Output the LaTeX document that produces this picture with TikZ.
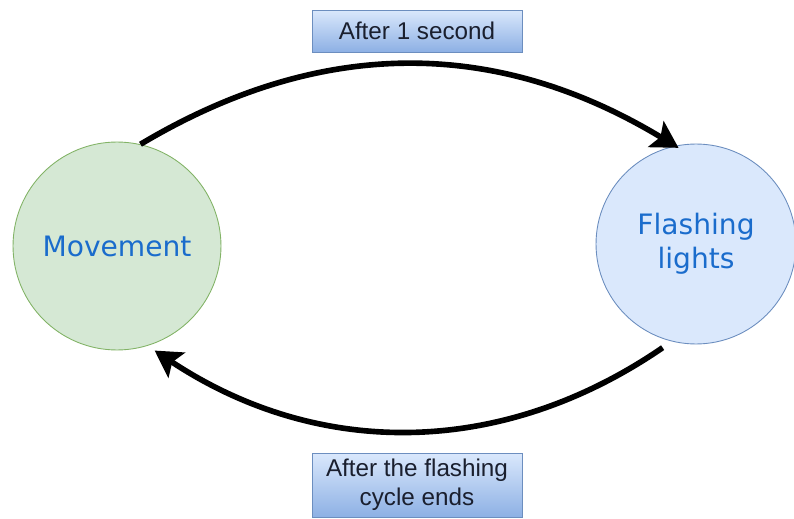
\documentclass[tikz,border=0pt]{standalone}
\usepackage{fontspec}
\setmainfont{Liberation Sans}
\newfontfamily\statefont{DejaVu Sans}
\usepackage{xcolor}
\usepackage{tikz}
\usetikzlibrary{arrows.meta, positioning}
\definecolor{greenfill}{HTML}{D5E8D4}
\definecolor{greenline}{HTML}{82B366}
\definecolor{bluefill}{HTML}{DAE8FC}
\definecolor{blueline}{HTML}{6C8EBF}
\definecolor{stateblue}{HTML}{1A6CCC}
\definecolor{boxtop}{HTML}{DAE8FC}
\definecolor{boxbottom}{HTML}{8DB0E4}
\definecolor{boxtext}{HTML}{1A1F2E}

\begin{document}
\begin{tikzpicture}[x=0.02cm, y=0.02cm, >=Stealth,
  state/.style={circle, draw, line width=0.5pt, inner sep=0pt, align=center, text=stateblue, font=\statefont\fontsize{16}{19.3}\selectfont},
  label box/.style={draw=blueline, line width=0.5pt, top color=boxtop, bottom color=boxbottom, minimum width=4.2cm, inner sep=0pt, align=center, text=boxtext, font=\fontsize{13.8}{16.5}\selectfont},
  cycle arrow/.style={line width=3.2pt, -{Stealth[length=15pt, width=17pt, inset=3pt]}}]

\useasboundingbox (0,0) rectangle (794,518);

% States
\node[state, fill=greenfill, draw=greenline, minimum size=4.16cm] (move) at (117,272) {Movement};
\node[state, fill=bluefill, draw=blueline, minimum size=4cm] (flash) at (696,274) {Flashing\\lights};

% Transition labels
\node[label box, minimum height=0.84cm] (tick) at (417,487) {After 1 second};
\node[label box, minimum height=1.28cm] (cycle) at (417,33) {After the flashing\\cycle ends};

% Transitions
\draw[cycle arrow, shorten >=-0.08cm] (move.77) to[bend left=31] (flash.102);
\draw[cycle arrow, shorten <=0.22cm, shorten >=0.17cm] (flash.256) to[bend left=34] (move.287);

\end{tikzpicture}
\end{document}
